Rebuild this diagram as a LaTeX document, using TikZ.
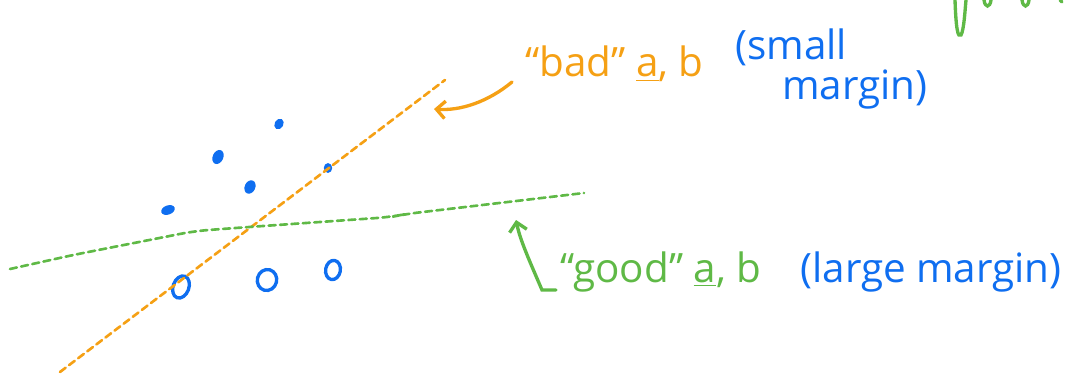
\documentclass[tikz,border=0pt]{standalone}
\usepackage{fontspec}
\setmainfont{Open Sans}
\usetikzlibrary{arrows.meta}
\definecolor{penorange}{RGB}{245,160,20}
\definecolor{penblue}{RGB}{15,110,240}
\definecolor{pengreen}{RGB}{95,185,70}

\begin{document}
\begin{tikzpicture}[x=0.02cm,y=-0.02cm,>={Straight Barb[length=5pt,width=10pt]},line cap=round,
  hand/.style={font=\fontsize{23}{27}\selectfont,inner sep=0pt,anchor=base west},
  sep/.style={line width=1.5pt,dash pattern=on 4pt off 2.5pt},
  pen/.style={line width=1.9pt}]
  \useasboundingbox (0,0) rectangle (1071,375);
  % positive points
  \fill[penblue,rotate around={-30:(279,124)}] (279,124) ellipse [x radius=2.5pt,y radius=3.2pt];
  \fill[penblue,rotate around={-25:(218,157)}] (218,157) ellipse [x radius=3pt,y radius=4.2pt];
  \fill[penblue,rotate around={-25:(250,187)}] (250,187) ellipse [x radius=3pt,y radius=4pt];
  \fill[penblue,rotate around={20:(168,210)}] (168,210) ellipse [x radius=4pt,y radius=2.6pt];
  \fill[penblue] (328,168) ellipse [x radius=2.4pt,y radius=2.8pt];
  % negative points
  \draw[penblue,pen,rotate around={-20:(181,287)}] (181,287) ellipse [x radius=4.5pt,y radius=6.5pt];
  \draw[penblue,pen,rotate around={-15:(267,280)}] (267,280) ellipse [x radius=5.5pt,y radius=6pt];
  \draw[penblue,pen,rotate around={-10:(333,270)}] (333,270) ellipse [x radius=4.2pt,y radius=5.5pt];
  % separators
  \draw[penorange,sep] (60,372) -- (445,80);
  \draw[pengreen,sep,rounded corners=8pt] (10,269) -- (73,255) -- (195,231) -- (249,227)
    -- (391,217) -- (406,214) -- (584,193);
  % labels
  \node[hand,text=penorange] (bad) at (525,77) {“bad” \underline{a}, b};
  \node[hand,text=penblue] (small) at (735,60) {(small};
  \node[hand,text=penblue] (margin) at (782,100) {margin)};
  \node[hand,text=pengreen] (good) at (560,282) {“good” \underline{a}, b};
  \node[hand,text=penblue] (large) at (800,282) {(large margin)};
  \coordinate (badfrom) at (512,82);
  \coordinate (badto) at (434,109);
  \coordinate (goodfrom) at (556,290);
  \coordinate (goodto) at (516,220);
  \draw[penorange,pen,->] (badfrom) .. controls (488,102) and (460,111) .. (badto);
  \draw[pengreen,pen,->] (goodfrom) -- (542,290) .. controls (530,262) and (520,240) .. (goodto);
  % cut-off writing at the top right
  \draw[pengreen,pen] (955,0) .. controls (956,30) and (958,38) .. (961,35)
    .. controls (964,30) and (965,10) .. (966,0);
  \draw[pengreen,pen] (984,0) .. controls (985,8) and (990,8) .. (991,0);
  \draw[pengreen,pen] (1022,0) .. controls (1023,8) and (1028,8) .. (1029,0);
  \draw[pengreen,pen] (1060,0) -- (1062,2);
\end{tikzpicture}
\end{document}
